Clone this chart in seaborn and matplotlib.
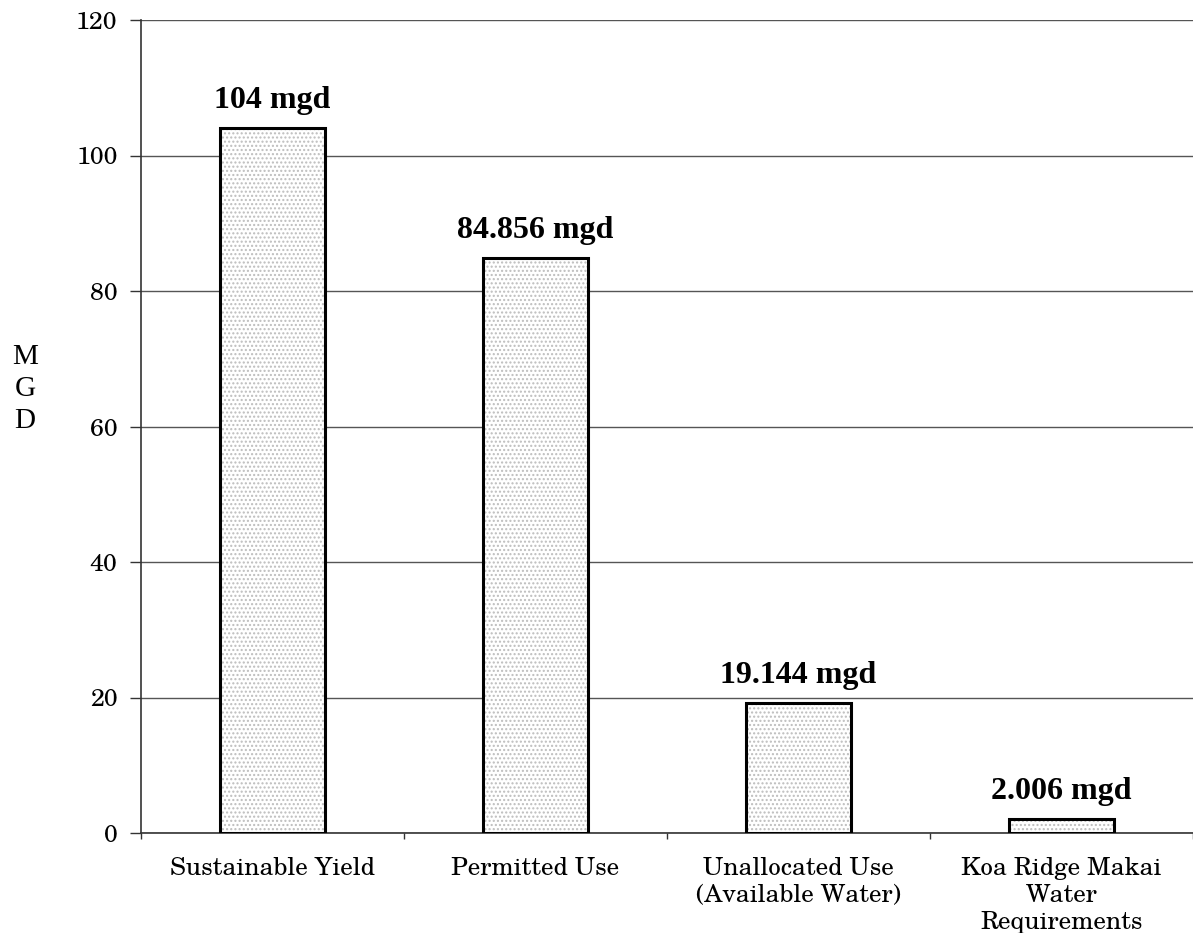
import matplotlib
matplotlib.use("Agg")
import matplotlib.pyplot as plt
from matplotlib import font_manager as fm
import seaborn as sns
import pandas as pd

categories = ["Sustainable Yield", "Permitted Use",
              "Unallocated Use\n(Available Water)",
              "Koa Ridge Makai\nWater\nRequirements"]
values = [104, 84.856, 19.144, 2.006]
value_labels = ["104 mgd", "84.856 mgd", "19.144 mgd", "2.006 mgd"]
y_ticks = [0, 20, 40, 60, 80, 100, 120]

df = pd.DataFrame({"category": categories, "mgd": values})

sns.set_theme(style="white")
plt.rcParams["hatch.linewidth"] = 1.0
plt.rcParams["text.color"] = "black"
plt.rcParams["xtick.color"] = "black"
plt.rcParams["ytick.color"] = "black"

# schoolbook-style serif for the axis text, with a safe fallback
installed = {f.name for f in fm.fontManager.ttflist}
tick_font = next((n for n in ["C059", "TeX Gyre Schola", "Century Schoolbook L",
                              "New Century Schoolbook", "DejaVu Serif"]
                  if n in installed), "DejaVu Serif")
label_font = "Liberation Serif"

W, H = 1193, 933
fig = plt.figure(figsize=(W / 100, H / 100), dpi=100)
ax = fig.add_axes([141 / W, 1 - 833 / H, (W - 141) / W, (833 - 20) / H])

# dotted fill layer
sns.barplot(data=df, x="category", y="mgd", ax=ax, width=0.4,
            color="white", edgecolor="#bdbdbd", hatch="....",
            linewidth=0, saturation=1, zorder=2)
# solid outline layer
sns.barplot(data=df, x="category", y="mgd", ax=ax, width=0.4,
            fill=False, color="black", linewidth=2.2, zorder=3)

ax.set_xlim(-0.5, 3.5)
ax.set_ylim(0, 120)
ax.yaxis.grid(True, color="#555555", linewidth=1)
ax.set_axisbelow(True)

for s in ["top", "right"]:
    ax.spines[s].set_visible(False)
for s in ["left", "bottom"]:
    ax.spines[s].set_color("#333333")
    ax.spines[s].set_linewidth(1.2)

ax.set_yticks(y_ticks)
ax.set_yticklabels([str(v) for v in y_ticks], fontfamily=tick_font,
                   fontsize=18, color="black")
ax.tick_params(axis="y", which="major", left=True, length=8, width=1,
               color="#333333", pad=9)

# category labels centred under bars, ticks at category boundaries
ax.set_xticks(range(len(categories)))
ax.set_xticklabels(categories, fontfamily=tick_font, fontsize=18,
                   linespacing=1.2, va="top", color="black")
ax.tick_params(axis="x", which="major", length=0, pad=17.5)
ax.set_xticks([-0.5, 0.5, 1.5, 2.5, 3.5], minor=True)
ax.tick_params(axis="x", which="minor", bottom=True, length=4.5, width=1,
               color="#333333")

ax.set_xlabel("")
ax.set_ylabel("M\nG\nD", rotation=0, family=[label_font], fontsize=21,
              linespacing=1.3, va="center", ha="center", color="black")
ax.yaxis.set_label_coords((25 - 141) / (W - 141), (833 - 389) / 813)

for i, (v, lab) in enumerate(zip(values, value_labels)):
    ax.annotate(lab, (i, v), xytext=(0, 14.5), textcoords="offset points",
                ha="center", va="baseline", fontfamily=label_font,
                fontweight="bold", fontsize=23, color="black", zorder=4)

fig.savefig("out.png", dpi=100, facecolor="white")
